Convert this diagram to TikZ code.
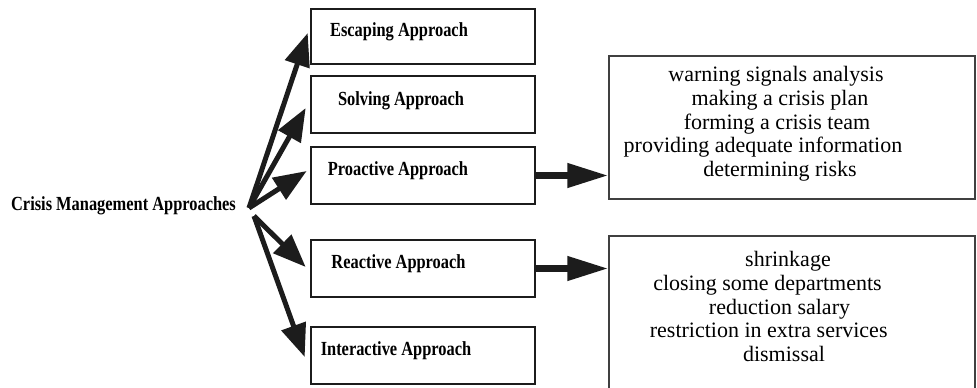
\documentclass[tikz,border=0pt]{standalone}
\usepackage{fontspec}
\setmainfont{Liberation Serif}
\newfontfamily\condfont{Liberation Serif}[FakeStretch=0.82]
\usetikzlibrary{arrows.meta,calc}
\definecolor{ink}{HTML}{1C1C1C}
\definecolor{thinline}{HTML}{404040}
\tikzset{
  lbox/.style={draw=ink,line width=2.6pt,minimum width=224pt,inner sep=0pt,rectangle},
  rbox/.style={draw=thinline,line width=1.1pt,minimum width=366pt,inner sep=0pt,rectangle},
  btext/.style={font=\condfont\bfseries\fontsize{20}{22}\selectfont,inner sep=0pt,anchor=base,text=black},
  rtext/.style={font=\fontsize{22}{24}\selectfont,inner sep=0pt,anchor=base,text=black},
  darrow/.style={draw=ink,line width=5pt,-{Triangle[length=33pt,width=25pt]},fill=ink},
  harrow/.style={draw=ink,line width=7pt,-{Triangle[length=41pt,width=23pt]},fill=ink}
}
\begin{document}
\begin{tikzpicture}[x=1pt,y=-1pt]
\useasboundingbox (0,0) rectangle (977,388);
\clip (0,0) rectangle (977,388);
% left boxes
\node[lbox,minimum height=55pt] (esc) at (423,36.5) {};
\node[lbox,minimum height=57pt] (solv) at (423,104.5) {};
\node[lbox,minimum height=57pt] (pro) at (423,175.5) {};
\node[lbox,minimum height=57pt] (react) at (423,268.5) {};
\node[lbox,minimum height=57pt] (inter) at (423,355.5) {};
% left box texts
\node[btext] (esct) at (399,36.5) {Escaping Approach};
\node[btext] (solvt) at (401,105) {Solving Approach};
\node[btext] (prot) at (398,175) {Proactive Approach};
\node[btext] (reactt) at (398.5,268) {Reactive Approach};
\node[btext] (intert) at (396,355) {Interactive Approach};
\node[btext] (crisis) at (123.5,210) {Crisis Management Approaches};
% right boxes
\node[rbox,minimum height=143pt] (rb1) at (792,127.5) {};
\node[rbox,minimum height=164pt] (rb2) at (792,318) {};
% right box texts
\node[rtext] (w1) at (776,81.7) {warning signals analysis};
\node[rtext] (w2) at (780,105.4) {making a crisis plan};
\node[rtext] (w3) at (777,129.2) {forming a crisis team};
\node[rtext] (w4) at (763,152.9) {providing adequate information};
\node[rtext] (w5) at (780,176.7) {determining risks};
\node[rtext] (r1) at (788,266.7) {shrinkage};
\node[rtext] (r2) at (767.5,290.4) {closing some departments};
\node[rtext] (r3) at (779.5,314.2) {reduction salary};
\node[rtext] (r4) at (768.7,337.9) {restriction in extra services};
\node[rtext] (r5) at (784,361.7) {dismissal};
% fan-out arrows
\coordinate (s1) at (249,208);
\coordinate (s2) at (254,216);
\draw[darrow] (s1) -- ([xshift=-2pt,yshift=3.5pt]esc.west);
\draw[darrow] (s1) -- ([xshift=-4pt,yshift=-3.5pt]solv.west);
\draw[darrow] (s1) -- ([xshift=-3pt,yshift=4.5pt]pro.west);
\draw[darrow] (s2) -- ([xshift=-4pt,yshift=1.5pt]react.west);
\draw[darrow] (s2) -- ([xshift=-5pt,yshift=-1.5pt]inter.west);
% horizontal arrows
\draw[harrow] (pro.east) -- (pro.east -| rb1.west);
\draw[harrow] (react.east) -- (react.east -| rb2.west);
\end{tikzpicture}
\end{document}
